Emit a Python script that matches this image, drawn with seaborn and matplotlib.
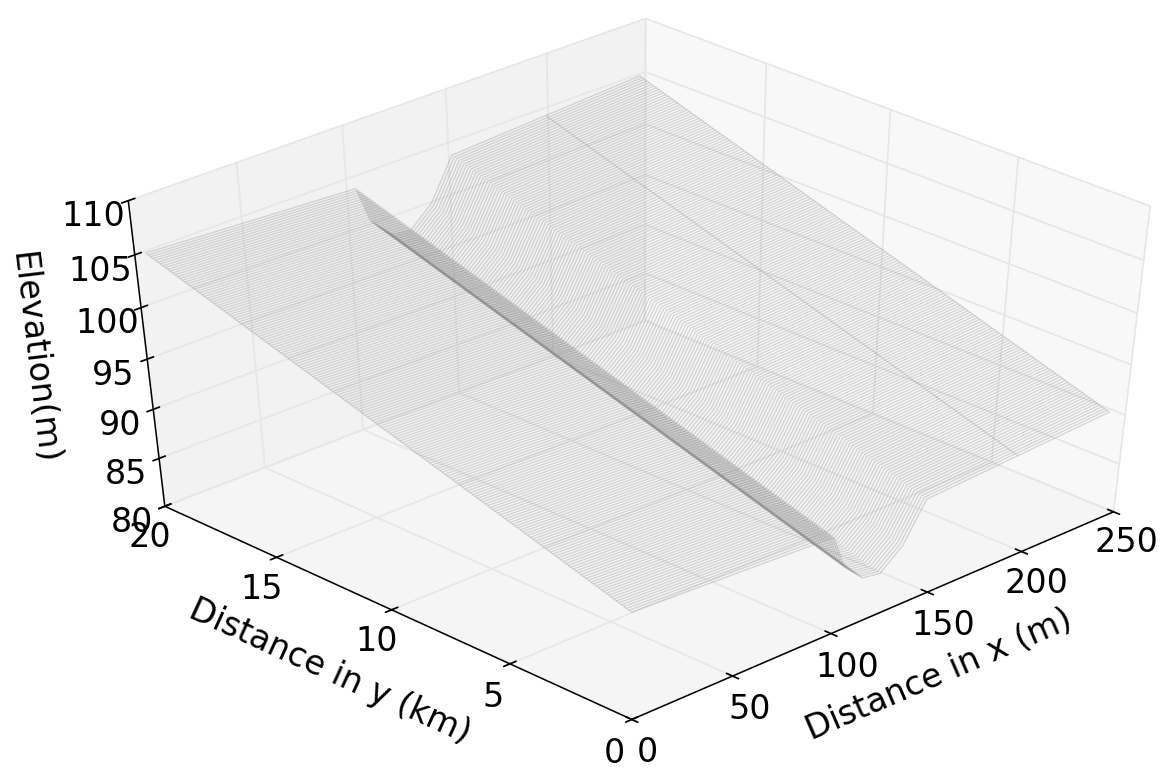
import numpy as np
import matplotlib
matplotlib.use("Agg")
import matplotlib.pyplot as plt
import seaborn as sns

# cross section nodes, distance in x (m) and depth below the far valley edge (m)
x_nodes = [0, 99, 105, 115, 124, 135, 146, 193, 241]
section_depth = [0.0, 1.0, 4.5, 6.5, 6.8, 4.9, 1.1, 0.55, 0.0]

# stations along the valley, every 0.1 km
y_km = [
    0.0, 0.1, 0.2, 0.3, 0.4, 0.5, 0.6, 0.7, 0.8, 0.9,
    1.0, 1.1, 1.2, 1.3, 1.4, 1.5, 1.6, 1.7, 1.8, 1.9,
    2.0, 2.1, 2.2, 2.3, 2.4, 2.5, 2.6, 2.7, 2.8, 2.9,
    3.0, 3.1, 3.2, 3.3, 3.4, 3.5, 3.6, 3.7, 3.8, 3.9,
    4.0, 4.1, 4.2, 4.3, 4.4, 4.5, 4.6, 4.7, 4.8, 4.9,
    5.0, 5.1, 5.2, 5.3, 5.4, 5.5, 5.6, 5.7, 5.8, 5.9,
    6.0, 6.1, 6.2, 6.3, 6.4, 6.5, 6.6, 6.7, 6.8, 6.9,
    7.0, 7.1, 7.2, 7.3, 7.4, 7.5, 7.6, 7.7, 7.8, 7.9,
    8.0, 8.1, 8.2, 8.3, 8.4, 8.5, 8.6, 8.7, 8.8, 8.9,
    9.0, 9.1, 9.2, 9.3, 9.4, 9.5, 9.6, 9.7, 9.8, 9.9,
    10.0, 10.1, 10.2, 10.3, 10.4, 10.5, 10.6, 10.7, 10.8, 10.9,
    11.0, 11.1, 11.2, 11.3, 11.4, 11.5, 11.6, 11.7, 11.8, 11.9,
    12.0, 12.1, 12.2, 12.3, 12.4, 12.5, 12.6, 12.7, 12.8, 12.9,
    13.0, 13.1, 13.2, 13.3, 13.4, 13.5, 13.6, 13.7, 13.8, 13.9,
    14.0, 14.1, 14.2, 14.3, 14.4, 14.5, 14.6, 14.7, 14.8, 14.9,
    15.0, 15.1, 15.2, 15.3, 15.4, 15.5, 15.6, 15.7, 15.8, 15.9,
    16.0, 16.1, 16.2, 16.3, 16.4, 16.5, 16.6, 16.7, 16.8, 16.9,
    17.0, 17.1, 17.2, 17.3, 17.4, 17.5, 17.6, 17.7, 17.8, 17.9,
    18.0, 18.1, 18.2, 18.3, 18.4, 18.5, 18.6, 18.7, 18.8, 18.9,
    19.0, 19.1, 19.2, 19.3, 19.4, 19.5,
]

# valley edge elevation (m) at each station
floodplain = [
    91.00, 91.08, 91.15, 91.23, 91.30, 91.38, 91.45, 91.53, 91.60, 91.68,
    91.75, 91.83, 91.90, 91.98, 92.05, 92.13, 92.20, 92.28, 92.35, 92.43,
    92.50, 92.58, 92.65, 92.73, 92.80, 92.88, 92.95, 93.03, 93.10, 93.18,
    93.25, 93.33, 93.40, 93.48, 93.55, 93.63, 93.70, 93.78, 93.85, 93.93,
    94.00, 94.08, 94.15, 94.23, 94.30, 94.38, 94.45, 94.53, 94.60, 94.68,
    94.75, 94.83, 94.90, 94.98, 95.05, 95.13, 95.20, 95.28, 95.35, 95.43,
    95.50, 95.58, 95.65, 95.73, 95.80, 95.88, 95.95, 96.03, 96.10, 96.18,
    96.25, 96.33, 96.40, 96.48, 96.55, 96.63, 96.70, 96.78, 96.85, 96.93,
    97.00, 97.08, 97.15, 97.23, 97.30, 97.38, 97.45, 97.53, 97.60, 97.68,
    97.75, 97.83, 97.90, 97.98, 98.05, 98.13, 98.20, 98.28, 98.35, 98.43,
    98.50, 98.58, 98.65, 98.73, 98.80, 98.88, 98.95, 99.03, 99.10, 99.18,
    99.25, 99.33, 99.40, 99.48, 99.55, 99.63, 99.70, 99.78, 99.85, 99.93,
    100.00, 100.08, 100.15, 100.23, 100.30, 100.38, 100.45, 100.53, 100.60, 100.68,
    100.75, 100.83, 100.90, 100.98, 101.05, 101.13, 101.20, 101.28, 101.35, 101.43,
    101.50, 101.58, 101.65, 101.73, 101.80, 101.88, 101.95, 102.03, 102.10, 102.18,
    102.25, 102.33, 102.40, 102.48, 102.55, 102.63, 102.70, 102.78, 102.85, 102.93,
    103.00, 103.08, 103.15, 103.23, 103.30, 103.38, 103.45, 103.53, 103.60, 103.68,
    103.75, 103.83, 103.90, 103.98, 104.05, 104.13, 104.20, 104.28, 104.35, 104.43,
    104.50, 104.58, 104.65, 104.73, 104.80, 104.88, 104.95, 105.03, 105.10, 105.18,
    105.25, 105.33, 105.40, 105.48, 105.55, 105.63,
]

x_ticks = [0, 50, 100, 150, 200, 250]
y_ticks = [0, 5, 10, 15, 20]
z_ticks = [80, 85, 90, 95, 100, 105, 110]

sns.set_theme(style="white", font="DejaVu Sans", rc={
    "text.color": "black",
    "axes.labelcolor": "black",
    "axes.edgecolor": "black",
    "xtick.color": "black",
    "ytick.color": "black",
    "grid.color": "0.9",
    "grid.linewidth": 1.2,
    "axes.linewidth": 1.1,
})

X, Y = np.meshgrid(x_nodes, y_km)
Z = np.array(floodplain)[:, None] - np.array(section_depth)

fig = plt.figure(figsize=(11.7, 7.76), dpi=100)
ax = fig.add_axes([38 / 1170, 0.073, 1.0, 0.897], projection="3d")
# let the projection stretch over the whole axes rectangle
ax.apply_aspect = lambda position=None: None
ax.set_box_aspect((1, 1, 1), zoom=1.0)
ax.view_init(elev=42.5, azim=-134.2)
ax.patch.set_alpha(0)

# cross sections, then the few long lines
ax.plot_wireframe(X, Y, Z, rstride=1, cstride=0, color="0.55",
                  linewidth=0.95, alpha=0.33)
keep = [0, 7, 8]
ax.plot_wireframe(X[:, keep], Y[:, keep], Z[:, keep], rstride=0, cstride=1,
                  color="0.55", linewidth=0.9, alpha=0.3)

ax.set_xlim(0, 250)
ax.set_ylim(0, 20)
ax.set_zlim(80, 110)
ax.set_xticks(x_ticks)
ax.set_yticks(y_ticks)
ax.set_zticks(z_ticks)
ax.tick_params(axis="both", labelsize=24, pad=0)
ax.set_xlabel("Distance in x (m)", fontsize=24, labelpad=23)
ax.set_ylabel("Distance in y (km)", fontsize=24, labelpad=23)
ax.set_zlabel("Elevation(m)", fontsize=24, labelpad=19.5)

for axis in [ax.xaxis, ax.yaxis, ax.zaxis]:
    axis.pane.set_edgecolor((1, 1, 1, 0))
    axis._axinfo["tick"]["inward_factor"] = 0.15
    axis._axinfo["tick"]["outward_factor"] = 0.15

# tick label offsets differ along each axis
for tick, pad in zip(ax.xaxis.get_major_ticks(), [3, 4, 4, 4, 3, 2]):
    tick.set_pad(pad)
for tick, pad in zip(ax.yaxis.get_major_ticks(), [4, 4, 3, 3, 3]):
    tick.set_pad(pad)
for tick in ax.zaxis.get_major_ticks():
    tick.set_pad(4)

fig.savefig("out.png", dpi=100)
